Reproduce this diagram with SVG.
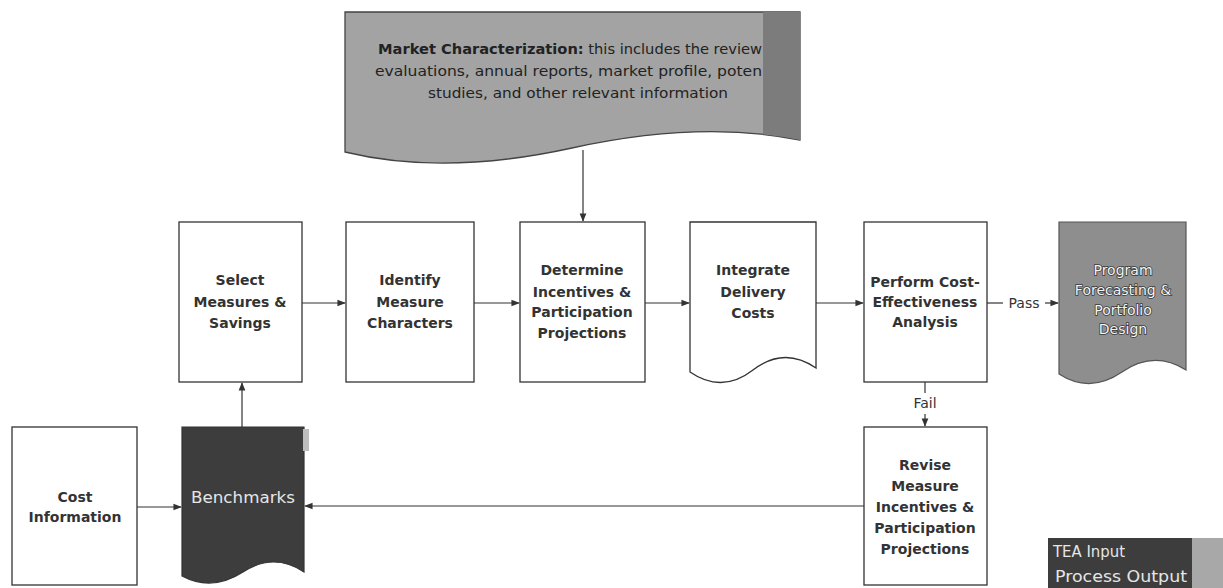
<svg xmlns="http://www.w3.org/2000/svg" width="1223" height="588" viewBox="0 0 1223 588">
<style>
.box{fill:#ffffff;stroke:#333333;stroke-width:1.3}
.lbl{font-family:"DejaVu Sans",Verdana,sans-serif;font-size:14px;font-weight:bold;fill:#333333;text-anchor:middle}
.lt{font-family:"DejaVu Sans",Verdana,sans-serif;font-size:14px;fill:#333333;text-anchor:middle}
.wl{font-family:"DejaVu Sans",Verdana,sans-serif;font-size:14px;fill:#f4f4f4;stroke:#3a3a3a;stroke-width:1.6;paint-order:stroke;text-anchor:middle}
.con{fill:none;stroke:#333333;stroke-width:1.2}
</style>
<defs>
<marker id="ah" viewBox="0 0 10 10" refX="9" refY="5" markerWidth="7" markerHeight="7" orient="auto">
<path d="M0,1 L10,5 L0,9 Z" fill="#333333"/>
</marker>
<clipPath id="mclip"><path d="M345,12 H800 V140 Q700,120 572,148 T345,152 Z"/></clipPath>
</defs>
<rect width="1223" height="588" fill="#ffffff"/>

<g id="market">
<path d="M345,12 H800 V140 Q700,120 572,148 T345,152 Z" fill="#a3a3a3" stroke="#444444" stroke-width="1.3"/>
<rect x="763" y="12" width="37" height="160" fill="#7c7c7c" clip-path="url(#mclip)"/>
<text x="378" y="54" font-family="DejaVu Sans,sans-serif" font-size="14" fill="#222222" textLength="384" lengthAdjust="spacingAndGlyphs"><tspan font-weight="bold">Market Characterization:</tspan> this includes the review</text>
<text x="375" y="76" font-family="DejaVu Sans,sans-serif" font-size="14" fill="#222222" textLength="387" lengthAdjust="spacingAndGlyphs">evaluations, annual reports, market profile, poten</text>
<text x="578" y="98" font-family="DejaVu Sans,sans-serif" font-size="14" fill="#222222" text-anchor="middle" textLength="300" lengthAdjust="spacingAndGlyphs">studies, and other relevant information</text>
</g>

<g id="select">
<rect class="box" x="179" y="222" width="123" height="160"/>
<text class="lbl"><tspan x="240" y="285">Select</tspan><tspan x="240" y="307">Measures &amp;</tspan><tspan x="240" y="328">Savings</tspan></text>
</g>

<g id="identify">
<rect class="box" x="346" y="222" width="128" height="160"/>
<text class="lbl"><tspan x="410" y="285">Identify</tspan><tspan x="410" y="307">Measure</tspan><tspan x="410" y="328">Characters</tspan></text>
</g>

<g id="determine">
<rect class="box" x="520" y="222" width="125" height="160"/>
<text class="lbl"><tspan x="582" y="275">Determine</tspan><tspan x="582" y="297">Incentives &amp;</tspan><tspan x="582" y="317">Participation</tspan><tspan x="582" y="338">Projections</tspan></text>
</g>

<g id="integrate">
<path d="M690,222 H816 V368 Q784,346 753,370 T690,372 Z" fill="#ffffff" stroke="#333333" stroke-width="1.3"/>
<text class="lbl"><tspan x="753" y="275">Integrate</tspan><tspan x="753" y="297">Delivery</tspan><tspan x="753" y="318">Costs</tspan></text>
</g>

<g id="perform">
<rect class="box" x="864" y="222" width="123" height="160"/>
<text class="lbl"><tspan x="925" y="287">Perform Cost-</tspan><tspan x="925" y="307">Effectiveness</tspan><tspan x="925" y="327">Analysis</tspan></text>
</g>

<g id="program">
<path d="M1059,222 H1186 V370 Q1154,350 1122,372 T1059,374 Z" fill="#8e8e8e" stroke="#555555" stroke-width="1.2"/>
<text class="wl"><tspan x="1123" y="275">Program</tspan><tspan x="1123" y="295">Forecasting &amp;</tspan><tspan x="1123" y="315">Portfolio</tspan><tspan x="1123" y="334">Design</tspan></text>
</g>

<g id="cost">
<rect class="box" x="12" y="427" width="125" height="158"/>
<text class="lbl"><tspan x="75" y="502">Cost</tspan><tspan x="75" y="522">Information</tspan></text>
</g>

<g id="benchmarks">
<path d="M182,427 H304 V572 Q274,552 243,572 T182,576 Z" fill="#3d3d3d" stroke="#333333" stroke-width="1.2"/>
<rect x="303" y="429" width="6" height="22" fill="#bdbdbd"/>
<text x="243" y="503" font-family="DejaVu Sans,sans-serif" font-size="15" fill="#e6e6e6" text-anchor="middle" textLength="104" lengthAdjust="spacingAndGlyphs">Benchmarks</text>
</g>

<g id="revise">
<rect class="box" x="864" y="427" width="123" height="158"/>
<text class="lbl"><tspan x="925" y="470">Revise</tspan><tspan x="925" y="491">Measure</tspan><tspan x="925" y="512">Incentives &amp;</tspan><tspan x="925" y="533">Participation</tspan><tspan x="925" y="554">Projections</tspan></text>
</g>

<g id="legend">
<rect x="1048" y="538" width="144" height="50" fill="#3d3d3d"/>
<rect x="1192" y="538" width="31" height="50" fill="#a8a8a8"/>
<text x="1053" y="557" font-family="DejaVu Sans,sans-serif" font-size="16" fill="#e6e6e6" textLength="72" lengthAdjust="spacingAndGlyphs">TEA Input</text>
<text x="1055" y="582" font-family="DejaVu Sans,sans-serif" font-size="16" fill="#e6e6e6" textLength="132" lengthAdjust="spacingAndGlyphs">Process Output</text>
</g>

<g id="connectors">
<path class="con" d="M583,150 V221" marker-end="url(#ah)"/>
<path class="con" d="M302,303 H345" marker-end="url(#ah)"/>
<path class="con" d="M474,303 H519" marker-end="url(#ah)"/>
<path class="con" d="M645,303 H689" marker-end="url(#ah)"/>
<path class="con" d="M816,303 H863" marker-end="url(#ah)"/>
<path class="con" d="M987,303 H1003"/>
<text class="lt" x="1024" y="308">Pass</text>
<path class="con" d="M1045,303 H1058" marker-end="url(#ah)"/>
<path class="con" d="M925,382 V393"/>
<text class="lt" x="925" y="408">Fail</text>
<path class="con" d="M925,414 V426" marker-end="url(#ah)"/>
<path class="con" d="M864,506 H305" marker-end="url(#ah)"/>
<path class="con" d="M137,507 H181" marker-end="url(#ah)"/>
<path class="con" d="M242,427 V383" marker-end="url(#ah)"/>
</g>
</svg>
